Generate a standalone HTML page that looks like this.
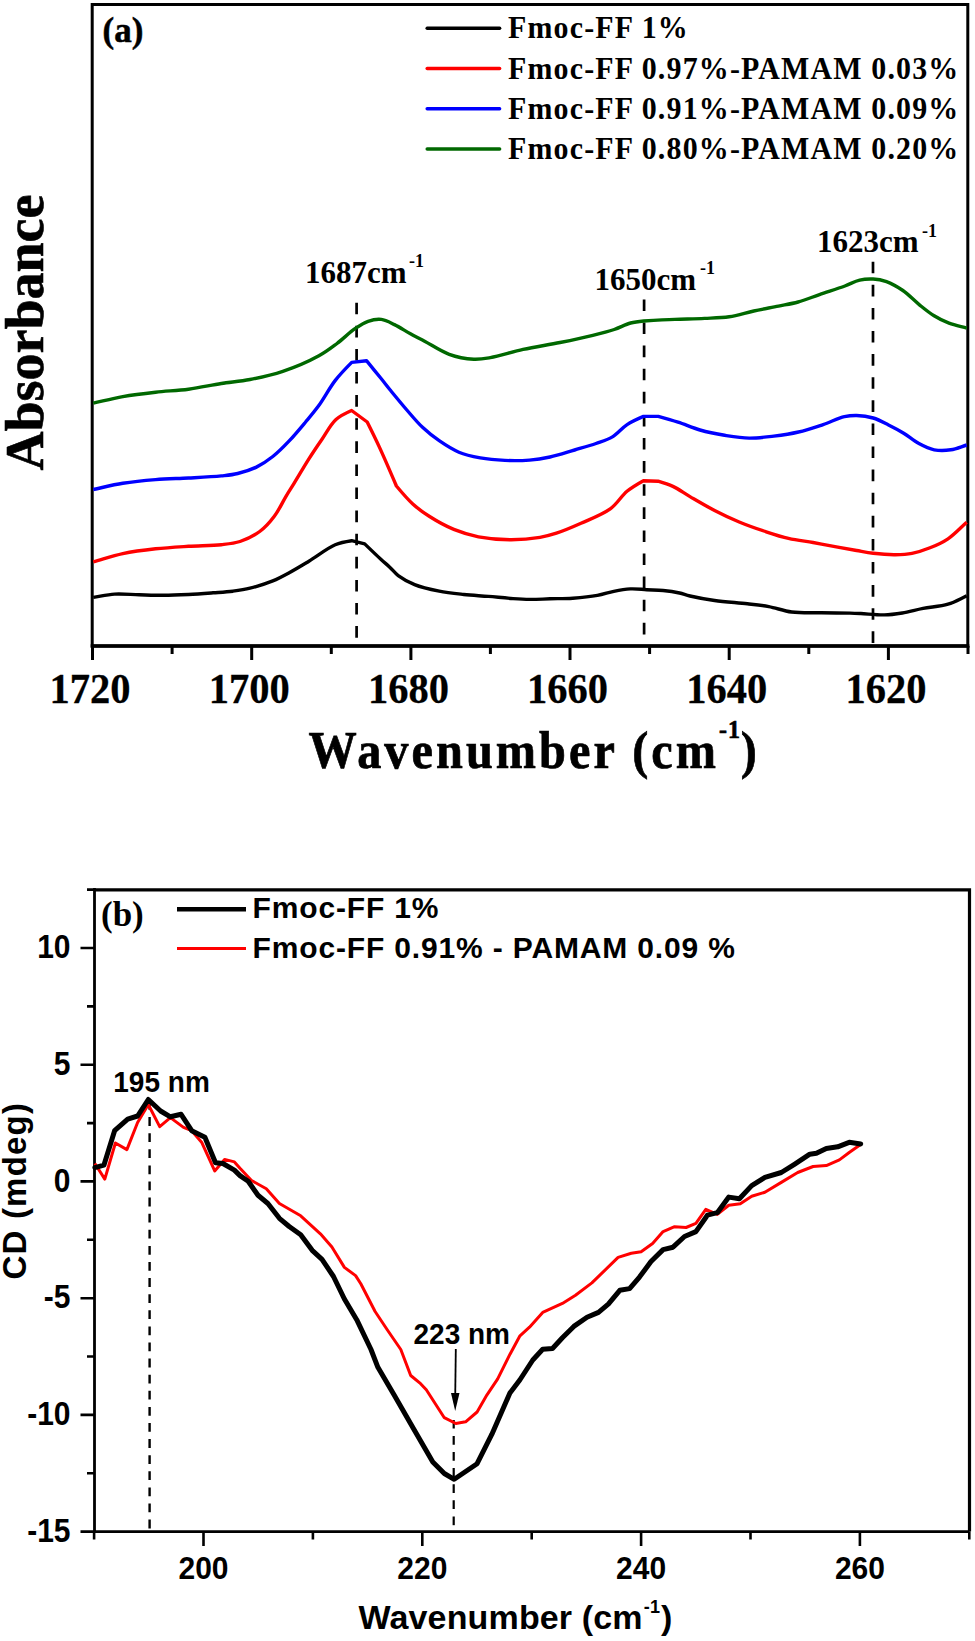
<!DOCTYPE html>
<html><head><meta charset="utf-8"><style>
html,body{margin:0;padding:0;background:#fff;width:975px;height:1641px;overflow:hidden}
svg{display:block}
</style></head><body>
<svg width="975" height="1641" viewBox="0 0 975 1641">
<rect width="975" height="1641" fill="#fff"/>
<g id="chartA">
<rect x="92.2" y="4.5" width="875.6" height="641.5" fill="none" stroke="#000" stroke-width="3"/>
<line x1="90.7" y1="646" x2="969.3" y2="646" stroke="#000" stroke-width="3.6"/>
<path d="M92.5,646 V660 M172.1,646 V654 M251.7,646 V660 M331.3,646 V654 M410.9,646 V660 M490.4,646 V654 M570.0,646 V660 M649.6,646 V654 M729.2,646 V660 M808.8,646 V654 M888.4,646 V660 M968.0,646 V654" stroke="#000" stroke-width="3" fill="none"/>
<text transform="translate(90.0,703) scale(1,1.03)" text-anchor="middle" style="font-family:'Liberation Serif',serif;font-weight:bold;font-size:40.5px;stroke:#000;stroke-width:0.25px">1720</text>
<text transform="translate(249.2,703) scale(1,1.03)" text-anchor="middle" style="font-family:'Liberation Serif',serif;font-weight:bold;font-size:40.5px;stroke:#000;stroke-width:0.25px">1700</text>
<text transform="translate(408.4,703) scale(1,1.03)" text-anchor="middle" style="font-family:'Liberation Serif',serif;font-weight:bold;font-size:40.5px;stroke:#000;stroke-width:0.25px">1680</text>
<text transform="translate(567.5,703) scale(1,1.03)" text-anchor="middle" style="font-family:'Liberation Serif',serif;font-weight:bold;font-size:40.5px;stroke:#000;stroke-width:0.25px">1660</text>
<text transform="translate(726.7,703) scale(1,1.03)" text-anchor="middle" style="font-family:'Liberation Serif',serif;font-weight:bold;font-size:40.5px;stroke:#000;stroke-width:0.25px">1640</text>
<text transform="translate(885.9,703) scale(1,1.03)" text-anchor="middle" style="font-family:'Liberation Serif',serif;font-weight:bold;font-size:40.5px;stroke:#000;stroke-width:0.25px">1620</text>
<text transform="translate(308.5,768) scale(0.92,1)" style="font-family:'Liberation Serif',serif;font-weight:bold;font-size:52.5px;letter-spacing:3.3px;stroke:#000;stroke-width:0.7px">Wavenumber (cm<tspan dy="-30" style="font-size:26px;letter-spacing:1px">-1</tspan><tspan dy="30">)</tspan></text>
<text transform="translate(42.5,470.5) rotate(-90)" x="0" y="0" style="font-family:'Liberation Serif',serif;font-weight:bold;font-size:54px;stroke:#000;stroke-width:0.6px">Absorbance</text>
<text x="102.5" y="42" style="font-family:'Liberation Serif',serif;font-weight:bold;font-size:35px;stroke:#000;stroke-width:0.5px">(a)</text>
<line x1="356.6" y1="637.7" x2="356.6" y2="300" stroke="#000" stroke-width="2.7" stroke-dasharray="11.6,11.5"/>
<line x1="644.1" y1="634.4" x2="644.1" y2="296" stroke="#000" stroke-width="2.7" stroke-dasharray="11.6,11.5"/>
<line x1="873.0" y1="642.9" x2="873.0" y2="259.5" stroke="#000" stroke-width="2.7" stroke-dasharray="11.6,11.5"/>
<text x="305" y="282.5" style="font-family:'Liberation Serif',serif;font-weight:bold;font-size:31px">1687cm</text>
<text x="409" y="267.0" style="font-family:'Liberation Serif',serif;font-weight:bold;font-size:18px">-1</text>
<text x="594.5" y="289.7" style="font-family:'Liberation Serif',serif;font-weight:bold;font-size:31px">1650cm</text>
<text x="700" y="274.2" style="font-family:'Liberation Serif',serif;font-weight:bold;font-size:18px">-1</text>
<text x="817" y="252.3" style="font-family:'Liberation Serif',serif;font-weight:bold;font-size:31px">1623cm</text>
<text x="922" y="236.8" style="font-family:'Liberation Serif',serif;font-weight:bold;font-size:18px">-1</text>
<path d="M93.3,597.4 C100.4,596.3 107.2,594.6 114.6,594.1 C122.5,593.6 131.0,594.6 139.2,594.8 C147.4,595.0 155.6,595.3 163.8,595.3 C172.0,595.3 180.3,594.9 188.5,594.5 C196.7,594.1 205.4,593.4 213.1,592.8 C220.0,592.3 226.5,592.0 232.8,591.2 C238.7,590.4 243.9,589.7 250.0,588.2 C257.1,586.4 265.9,583.7 272.8,580.9 C278.8,578.4 283.5,575.8 289.2,572.7 C295.5,569.3 301.9,565.4 308.9,561.2 C317.1,556.3 327.2,548.2 335.2,544.8 C341.1,542.3 351.6,540.7 351.6,540.7 C351.6,540.7 364.7,543.9 364.7,543.9 C364.7,543.9 376.4,555.2 381.1,559.5 C384.5,562.6 387.1,564.7 390.0,567.4 C392.8,570.1 394.8,573.0 398.2,575.6 C402.6,578.9 408.4,582.1 414.6,584.6 C421.8,587.5 430.9,589.5 439.2,591.2 C447.3,592.8 455.6,593.6 463.8,594.5 C472.0,595.4 480.3,595.7 488.5,596.4 C496.7,597.1 505.7,598.1 513.1,598.6 C519.1,599.0 523.7,599.3 529.5,599.4 C536.0,599.5 543.0,599.0 550.0,598.8 C557.4,598.6 565.1,598.7 572.8,598.2 C580.9,597.6 590.1,596.7 597.4,595.4 C603.5,594.3 608.3,592.4 613.8,591.3 C619.3,590.2 624.8,589.2 630.3,588.9 C635.8,588.6 641.2,589.4 646.7,589.7 C652.2,590.0 657.6,590.0 663.1,590.5 C668.6,591.0 674.7,591.9 679.5,593.0 C683.4,593.9 685.7,595.0 690.0,596.0 C696.5,597.5 705.8,599.3 714.6,600.5 C724.7,601.9 737.6,602.7 747.4,603.8 C755.3,604.7 761.6,605.3 768.8,606.6 C776.3,608.0 783.5,610.9 791.7,612.0 C800.9,613.2 811.5,612.6 821.3,612.8 C830.9,613.0 842.7,612.9 850.0,613.1 C854.5,613.2 856.5,613.3 860.8,613.5 C867.1,613.8 877.0,615.1 884.3,614.9 C890.7,614.8 896.1,614.0 902.3,613.0 C909.0,611.9 915.8,609.8 923.1,608.4 C931.0,606.9 940.4,606.5 948.0,604.2 C954.8,602.1 960.5,598.7 966.7,595.9" fill="none" stroke="#000" stroke-width="3.4" stroke-linejoin="round"/>
<path d="M93.3,561.9 C103.1,559.2 112.6,555.9 122.8,553.7 C133.4,551.4 144.6,550.0 155.6,548.8 C166.5,547.6 177.5,547.0 188.5,546.3 C199.4,545.6 211.9,545.7 221.3,544.7 C228.4,543.9 233.8,543.5 240.0,541.5 C246.6,539.3 253.9,535.8 259.7,531.5 C265.4,527.3 270.2,521.8 274.5,516.0 C279.0,510.1 282.5,502.2 286.0,496.3 C288.9,491.4 291.1,488.2 294.2,483.1 C298.4,476.3 304.1,466.5 308.9,458.9 C313.3,451.9 317.5,445.7 322.0,439.2 C326.5,432.6 330.6,424.4 336.0,419.5 C340.7,415.3 351.6,410.5 351.6,410.5 C351.6,410.5 367.2,422.0 367.2,422.0 C367.2,422.0 375.2,438.0 379.5,447.4 C384.8,458.9 396.4,486.0 396.4,486.0 C396.4,486.0 407.1,498.8 412.8,504.0 C418.1,508.8 423.0,512.4 429.2,516.3 C436.4,520.9 445.4,526.0 453.8,529.4 C461.9,532.7 469.6,535.1 478.5,536.8 C488.6,538.7 500.7,539.8 511.3,539.8 C521.2,539.8 531.8,538.8 540.0,537.4 C546.3,536.3 550.5,535.1 556.4,533.2 C563.8,530.8 572.5,527.1 581.0,523.3 C590.5,519.0 602.6,514.5 610.6,508.6 C617.4,503.6 621.2,496.1 627.0,491.3 C632.2,487.0 643.4,480.7 643.4,480.7 C643.4,480.7 658.1,481.2 658.1,481.2 C658.1,481.2 667.9,484.1 672.9,486.4 C678.5,489.0 683.8,493.0 690.0,496.6 C697.4,500.9 706.3,506.2 714.6,510.5 C722.7,514.7 730.9,518.6 739.2,522.0 C747.3,525.4 755.6,528.3 763.8,531.0 C772.0,533.7 780.2,536.5 788.5,538.4 C796.6,540.3 804.9,541.1 813.1,542.5 C821.3,544.0 830.0,545.7 837.7,547.1 C844.4,548.3 850.5,549.4 856.6,550.5 C862.3,551.5 867.2,552.6 873.2,553.3 C880.0,554.1 888.5,554.8 895.4,554.7 C901.3,554.6 906.4,554.4 912.0,553.3 C917.9,552.2 924.1,550.2 930.0,547.8 C936.1,545.4 942.2,542.7 948.0,538.8 C954.5,534.4 960.5,527.7 966.7,522.2" fill="none" stroke="#f00" stroke-width="3.4" stroke-linejoin="round"/>
<path d="M93.3,489.5 C103.1,487.4 112.7,484.9 122.8,483.3 C133.4,481.6 144.6,480.5 155.6,479.6 C166.5,478.7 177.5,478.6 188.5,478.0 C199.4,477.4 212.3,476.8 221.3,475.9 C227.7,475.2 232.1,474.9 237.7,473.5 C243.8,472.0 250.5,469.9 256.4,467.1 C262.2,464.3 267.5,460.7 272.8,456.5 C278.5,452.0 283.9,446.5 289.2,440.9 C294.8,435.0 300.5,428.1 305.6,422.0 C310.3,416.4 314.3,411.8 318.8,405.6 C324.2,398.2 329.5,387.9 335.3,380.4 C340.5,373.7 351.7,362.4 351.7,362.4 C351.7,362.4 366.5,360.7 366.5,360.7 C366.5,360.7 377.0,373.5 381.3,378.8 C384.6,382.9 386.6,385.6 390.0,389.8 C394.6,395.4 400.9,403.1 406.4,409.5 C411.8,415.7 417.1,422.3 422.8,427.6 C428.1,432.6 433.3,436.7 439.2,440.7 C445.3,444.9 452.0,449.3 458.9,452.2 C465.7,455.0 472.9,456.5 480.3,457.9 C488.2,459.3 496.7,460.0 504.9,460.4 C513.1,460.8 521.7,460.7 529.5,460.1 C536.7,459.5 542.9,458.5 550.0,457.0 C557.9,455.3 566.7,452.3 574.6,450.0 C582.0,447.8 589.4,445.8 596.0,443.5 C601.9,441.4 607.3,440.0 612.4,436.9 C617.7,433.7 621.9,428.0 627.1,424.6 C632.2,421.2 643.5,416.4 643.5,416.4 C643.5,416.4 658.3,416.4 658.3,416.4 C658.3,416.4 671.3,420.0 678.0,422.2 C685.2,424.5 692.4,427.8 700.0,430.0 C707.9,432.2 716.4,433.9 724.6,435.3 C732.8,436.6 741.0,438.0 749.2,438.1 C757.4,438.2 765.6,437.1 773.8,436.1 C782.0,435.1 790.3,433.9 798.5,432.0 C806.8,430.1 815.2,427.2 823.1,424.6 C830.5,422.1 838.2,418.1 844.4,416.7 C849.0,415.7 852.2,415.4 856.6,415.5 C861.7,415.6 867.9,416.4 873.2,418.0 C878.5,419.6 883.5,422.4 888.5,424.9 C893.6,427.4 898.7,430.1 903.7,433.2 C908.8,436.4 913.7,440.8 918.9,443.6 C923.9,446.3 928.9,448.8 934.2,449.8 C939.5,450.8 945.4,450.6 950.8,449.8 C956.2,449.0 961.4,446.6 966.7,445.0" fill="none" stroke="#00f" stroke-width="3.4" stroke-linejoin="round"/>
<path d="M93.3,403.2 C103.1,401.0 112.7,398.4 122.8,396.6 C133.4,394.7 144.6,393.4 155.6,392.2 C166.5,391.0 177.6,390.6 188.5,389.2 C199.5,387.7 210.7,385.2 221.3,383.5 C231.2,382.0 240.2,381.4 250.0,379.5 C260.6,377.5 271.8,375.1 282.8,371.4 C294.7,367.4 309.1,361.2 318.9,355.8 C326.2,351.8 331.1,347.9 337.0,343.5 C343.1,338.9 349.3,332.6 355.0,328.7 C359.6,325.6 363.6,322.8 368.1,321.3 C372.4,319.8 377.0,318.9 381.3,319.4 C385.7,319.9 389.9,322.4 394.4,324.6 C399.5,327.0 404.9,330.8 410.0,333.6 C414.9,336.3 419.1,338.3 424.6,341.2 C431.7,345.0 440.8,351.3 449.2,354.3 C457.2,357.2 466.4,358.8 473.8,359.2 C479.8,359.5 483.9,358.7 490.3,357.6 C499.4,356.0 511.8,351.9 523.1,349.4 C535.0,346.8 548.1,344.9 560.0,342.5 C571.3,340.2 583.1,337.7 592.8,335.3 C600.7,333.4 607.6,331.7 614.2,329.5 C620.1,327.5 625.4,324.4 630.6,323.0 C635.1,321.8 643.7,321.0 643.7,321.0 C643.7,321.0 664.6,319.8 674.9,319.4 C684.9,319.0 695.2,318.9 704.6,318.4 C713.2,318.0 721.1,318.0 729.2,316.8 C737.5,315.6 745.6,312.8 753.8,311.0 C762.0,309.2 770.7,307.7 778.5,306.1 C785.4,304.7 791.5,303.8 798.1,302.0 C805.1,300.1 812.1,297.1 819.5,294.6 C827.6,291.8 837.6,288.7 844.9,286.0 C850.5,283.9 854.8,281.2 859.7,280.1 C864.2,279.0 868.7,278.8 873.1,279.0 C877.6,279.2 881.9,280.0 886.5,281.6 C891.8,283.5 897.6,286.9 902.9,290.5 C908.6,294.4 913.8,300.3 919.2,304.6 C924.2,308.6 929.0,312.6 934.1,315.8 C938.9,318.8 943.7,321.2 949.0,323.2 C954.6,325.3 960.9,326.5 966.8,328.1" fill="none" stroke="#006800" stroke-width="3.4" stroke-linejoin="round"/>
<line x1="427.2" y1="28.3" x2="499.6" y2="28.3" stroke="#000" stroke-width="3.5" stroke-linecap="round"/>
<text transform="translate(508,38.4) scale(0.94,1)" style="font-family:'Liberation Serif',serif;font-weight:bold;font-size:31.85px;letter-spacing:1.25px">Fmoc-FF 1%</text>
<line x1="427.2" y1="68.5" x2="499.6" y2="68.5" stroke="#f00" stroke-width="3.5" stroke-linecap="round"/>
<text transform="translate(508,78.6) scale(0.94,1)" style="font-family:'Liberation Serif',serif;font-weight:bold;font-size:31.85px;letter-spacing:1.25px">Fmoc-FF 0.97%-PAMAM 0.03%</text>
<line x1="427.2" y1="108.7" x2="499.6" y2="108.7" stroke="#00f" stroke-width="3.5" stroke-linecap="round"/>
<text transform="translate(508,118.8) scale(0.94,1)" style="font-family:'Liberation Serif',serif;font-weight:bold;font-size:31.85px;letter-spacing:1.25px">Fmoc-FF 0.91%-PAMAM 0.09%</text>
<line x1="427.2" y1="148.9" x2="499.6" y2="148.9" stroke="#006800" stroke-width="3.5" stroke-linecap="round"/>
<text transform="translate(508,159.0) scale(0.94,1)" style="font-family:'Liberation Serif',serif;font-weight:bold;font-size:31.85px;letter-spacing:1.25px">Fmoc-FF 0.80%-PAMAM 0.20%</text>
</g>
<g id="chartB">
<path d="M94.5,889.8 H969.5 V1531.6" fill="none" stroke="#000" stroke-width="3.2"/>
<path d="M94.5,888 V1531.6 H969.5" fill="none" stroke="#000" stroke-width="2.8"/>
<path d="M80.5,1531.6 H94.5 M87.0,1473.2 H94.5 M80.5,1414.9 H94.5 M87.0,1356.5 H94.5 M80.5,1298.2 H94.5 M87.0,1239.8 H94.5 M80.5,1181.4 H94.5 M87.0,1123.1 H94.5 M80.5,1064.7 H94.5 M87.0,1006.4 H94.5 M80.5,948.0 H94.5 M87.0,889.6 H94.5 M94.1,1531.6 V1539.6 M203.5,1531.6 V1545.8999999999999 M312.9,1531.6 V1539.6 M422.3,1531.6 V1545.8999999999999 M531.7,1531.6 V1539.6 M641.1,1531.6 V1545.8999999999999 M750.5,1531.6 V1539.6 M859.9,1531.6 V1545.8999999999999 M969.3,1531.6 V1539.6" stroke="#000" stroke-width="2.6" fill="none"/>
<text transform="translate(70.5,958.2) scale(1,1.08)" text-anchor="end" style="font-family:'Liberation Sans',sans-serif;font-weight:bold;font-size:30px">10</text>
<text transform="translate(70.5,1074.9) scale(1,1.08)" text-anchor="end" style="font-family:'Liberation Sans',sans-serif;font-weight:bold;font-size:30px">5</text>
<text transform="translate(70.5,1191.6) scale(1,1.08)" text-anchor="end" style="font-family:'Liberation Sans',sans-serif;font-weight:bold;font-size:30px">0</text>
<text transform="translate(70.5,1308.4) scale(1,1.08)" text-anchor="end" style="font-family:'Liberation Sans',sans-serif;font-weight:bold;font-size:30px">-5</text>
<text transform="translate(70.5,1425.1) scale(1,1.08)" text-anchor="end" style="font-family:'Liberation Sans',sans-serif;font-weight:bold;font-size:30px">-10</text>
<text transform="translate(70.5,1541.8) scale(1,1.08)" text-anchor="end" style="font-family:'Liberation Sans',sans-serif;font-weight:bold;font-size:30px">-15</text>
<text transform="translate(203.5,1578.8) scale(1,1.06)" text-anchor="middle" style="font-family:'Liberation Sans',sans-serif;font-weight:bold;font-size:30px">200</text>
<text transform="translate(422.3,1578.8) scale(1,1.06)" text-anchor="middle" style="font-family:'Liberation Sans',sans-serif;font-weight:bold;font-size:30px">220</text>
<text transform="translate(641.1,1578.8) scale(1,1.06)" text-anchor="middle" style="font-family:'Liberation Sans',sans-serif;font-weight:bold;font-size:30px">240</text>
<text transform="translate(859.9,1578.8) scale(1,1.06)" text-anchor="middle" style="font-family:'Liberation Sans',sans-serif;font-weight:bold;font-size:30px">260</text>
<text x="358.5" y="1629" style="font-family:'Liberation Sans',sans-serif;font-weight:bold;font-size:34px;letter-spacing:0.15px">Wavenumber (cm<tspan dx="1" dy="-16.5" style="font-size:18px">-1</tspan><tspan dx="1" dy="16.5">)</tspan></text>
<text transform="translate(26.1,1279.5) rotate(-90)" style="font-family:'Liberation Sans',sans-serif;font-weight:bold;font-size:33px;letter-spacing:1.2px">CD (mdeg)</text>
<text x="101" y="926" style="font-family:'Liberation Serif',serif;font-weight:bold;font-size:35px">(b)</text>
<line x1="177" y1="909.3" x2="246" y2="909.3" stroke="#000" stroke-width="4.6"/>
<line x1="177" y1="948.4" x2="246" y2="948.4" stroke="#f00" stroke-width="3"/>
<text x="252.5" y="918" style="font-family:'Liberation Sans',sans-serif;font-weight:bold;font-size:30px;letter-spacing:0.85px">Fmoc-FF 1%</text>
<text x="252.5" y="957.5" style="font-family:'Liberation Sans',sans-serif;font-weight:bold;font-size:30px;letter-spacing:0.85px">Fmoc-FF 0.91% - PAMAM 0.09 %</text>
<line x1="149.6" y1="1528.4" x2="149.6" y2="1100" stroke="#000" stroke-width="2.4" stroke-dasharray="8.8,7.3"/>
<line x1="453.7" y1="1525.2" x2="453.7" y2="1420" stroke="#000" stroke-width="2.2" stroke-dasharray="8.8,7.3"/>
<text transform="translate(113.3,1092.2) scale(1,1.06)" style="font-family:'Liberation Sans',sans-serif;font-weight:bold;font-size:28px">195 nm</text>
<text transform="translate(413.5,1343.6) scale(1,1.06)" style="font-family:'Liberation Sans',sans-serif;font-weight:bold;font-size:28px">223 nm</text>
<line x1="455.8" y1="1349" x2="455.2" y2="1398" stroke="#000" stroke-width="1.8"/>
<path d="M451,1393 L459.5,1393 L455.2,1411 Z" fill="#000"/>
<path d="M94.9,1163.5 L104.8,1179.1 L115.4,1143.0 L126.9,1149.6 L137.6,1122.5 L148.3,1104.5 L159.7,1126.6 L170.4,1117.6 L183.5,1127.4 L191.7,1130.7 L201.6,1142.2 L214.7,1170.9 L224.6,1159.4 L234.4,1161.9 L240.0,1168.2 L251.5,1180.5 L266.3,1188.7 L279.4,1203.5 L300.7,1215.8 L320.4,1233.8 L331.9,1247.0 L344.4,1267.4 L355.6,1275.6 L360.8,1283.8 L375.1,1311.5 L387.4,1330.0 L400.8,1349.5 L410.7,1375.5 L420.6,1383.7 L426.3,1389.8 L444.3,1417.7 L455.8,1423.5 L465.6,1421.8 L477.1,1412.0 L487.0,1394.8 L497.7,1378.8 L510.0,1354.2 L519.7,1336.2 L529.5,1327.2 L542.7,1312.4 L562.4,1303.4 L575.5,1295.2 L591.9,1282.9 L618.1,1257.4 L631.3,1253.3 L641.1,1251.7 L652.6,1243.5 L663.1,1231.6 L674.6,1226.7 L686.1,1227.5 L695.9,1223.4 L705.8,1209.4 L717.3,1214.4 L728.8,1205.3 L740.3,1203.7 L751.7,1196.3 L764.9,1192.2 L781.3,1182.4 L797.7,1172.5 L813.1,1166.5 L826.3,1165.6 L839.4,1159.9 L849.2,1152.5 L859.9,1145.1" fill="none" stroke="#f00" stroke-width="3" stroke-linejoin="round"/>
<path d="M94.9,1167.6 L103.9,1165.2 L114.6,1130.7 L127.7,1119.2 L137.6,1116.0 L148.3,1099.5 L160.6,1111.0 L170.4,1116.8 L181.1,1114.3 L191.7,1130.7 L204.9,1137.3 L215.5,1162.7 L222.9,1163.5 L234.4,1170.1 L240.0,1175.6 L248.2,1181.3 L258.0,1195.3 L267.9,1203.5 L279.4,1218.3 L289.2,1226.5 L300.7,1234.7 L312.2,1250.3 L322.0,1259.3 L333.5,1276.5 L344.4,1299.0 L356.7,1319.7 L371.0,1349.5 L377.9,1367.3 L394.3,1395.2 L414.0,1429.6 L432.8,1462.0 L444.3,1473.5 L454.2,1479.3 L477.1,1463.7 L491.9,1434.2 L509.9,1393.1 L519.8,1380.0 L532.8,1360.0 L542.7,1349.3 L552.5,1348.5 L562.4,1337.8 L573.8,1326.4 L587.0,1317.3 L598.5,1312.4 L608.3,1304.2 L619.8,1290.3 L629.6,1288.6 L639.5,1277.1 L651.0,1261.5 L663.1,1249.6 L673.0,1247.2 L684.5,1236.5 L695.9,1231.6 L707.4,1215.2 L717.3,1212.7 L728.8,1197.1 L739.4,1198.8 L751.7,1185.6 L764.9,1177.4 L781.3,1172.5 L794.4,1164.3 L809.8,1154.2 L816.4,1153.3 L826.3,1148.4 L837.7,1146.8 L849.2,1142.3 L860.7,1144.0" fill="none" stroke="#000" stroke-width="5" stroke-linejoin="round" stroke-linecap="round"/>
</g>
</svg></body></html>
